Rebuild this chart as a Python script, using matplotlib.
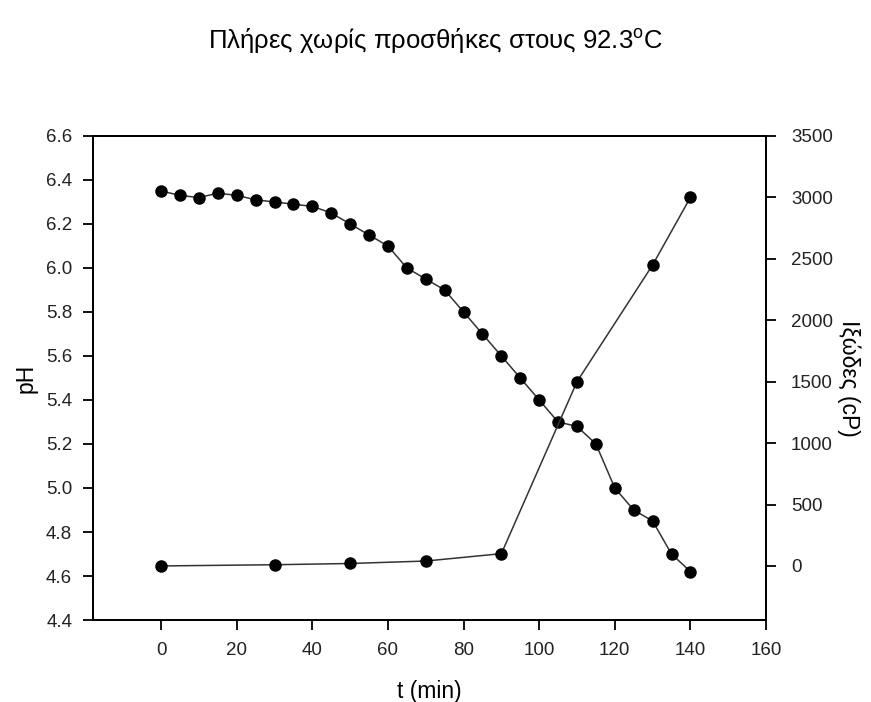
import numpy as np
import matplotlib
matplotlib.use("Agg")
import matplotlib.pyplot as plt

plt.rcParams['font.family'] = ['Liberation Sans', 'DejaVu Sans']
plt.rcParams['mathtext.fontset'] = 'custom'
plt.rcParams['mathtext.rm'] = 'Liberation Sans'

# data
t_ph = [0, 5, 10, 15, 20, 25, 30, 35, 40, 45, 50, 55, 60, 65, 70,
        75, 80, 85, 90, 95, 100, 105, 110, 115, 120, 125, 130, 135, 140]
ph = [6.35, 6.33, 6.32, 6.34, 6.33, 6.31, 6.30, 6.29, 6.28, 6.25, 6.20, 6.15, 6.10, 6.00, 5.95,
      5.90, 5.80, 5.70, 5.60, 5.50, 5.40, 5.30, 5.28, 5.20, 5.00, 4.90, 4.85, 4.70, 4.62]

t_visc = [0, 30, 50, 70, 90, 110, 130, 140]
visc = [0, 10, 20, 40, 100, 1500, 2450, 3000]

x_ticks = [0, 20, 40, 60, 80, 100, 120, 140, 160]
ph_ticks = [4.4, 4.6, 4.8, 5.0, 5.2, 5.4, 5.6, 5.8, 6.0, 6.2, 6.4, 6.6]
visc_ticks = [0, 500, 1000, 1500, 2000, 2500, 3000, 3500]

fig = plt.figure(figsize=(8.71, 7.02), dpi=100)
ax = fig.add_axes([0.1068, 0.1168, 0.7727, 0.6895])
ax2 = ax.twinx()

line_kw = dict(color='#333333', lw=1.1, marker='o', ms=8,
               mfc='black', mec='black', clip_on=False)
ax.plot(t_ph, ph, **line_kw)
ax2.plot(t_visc, visc, **line_kw)

ax.set_xlim(-18, 160)
ax.set_ylim(4.4, 6.6)
ax2.set_ylim(-440, 3500)

ax.set_xticks(x_ticks)
ax.set_yticks(ph_ticks)
ax.set_yticklabels([f"{v:.1f}" for v in ph_ticks])
ax2.set_yticks(visc_ticks)

for a in (ax, ax2):
    for s in a.spines.values():
        s.set_linewidth(1.4)
        s.set_color('black')
    a.tick_params(direction='out', length=7, width=1.3, labelsize=13.5, colors='black',
                  labelcolor='#222222')
ax.tick_params(axis='y', pad=8)
ax.tick_params(axis='x', pad=9)
ax2.tick_params(axis='y', pad=11)

ax.set_xlabel("t (min)", fontsize=16.5, labelpad=15)
ax.set_ylabel("pH", fontsize=16.5, labelpad=6)
ax2.set_ylabel("Ιξώδες (cP)", fontsize=16.5, rotation=-90, labelpad=20)

fig.text(0.5, 0.942, r"Πλήρες χωρίς προσθήκες στους 92.3$^{\mathrm{o}}$C",
         ha='center', va='center', fontsize=18.5)

fig.savefig("out.png", dpi=100)
